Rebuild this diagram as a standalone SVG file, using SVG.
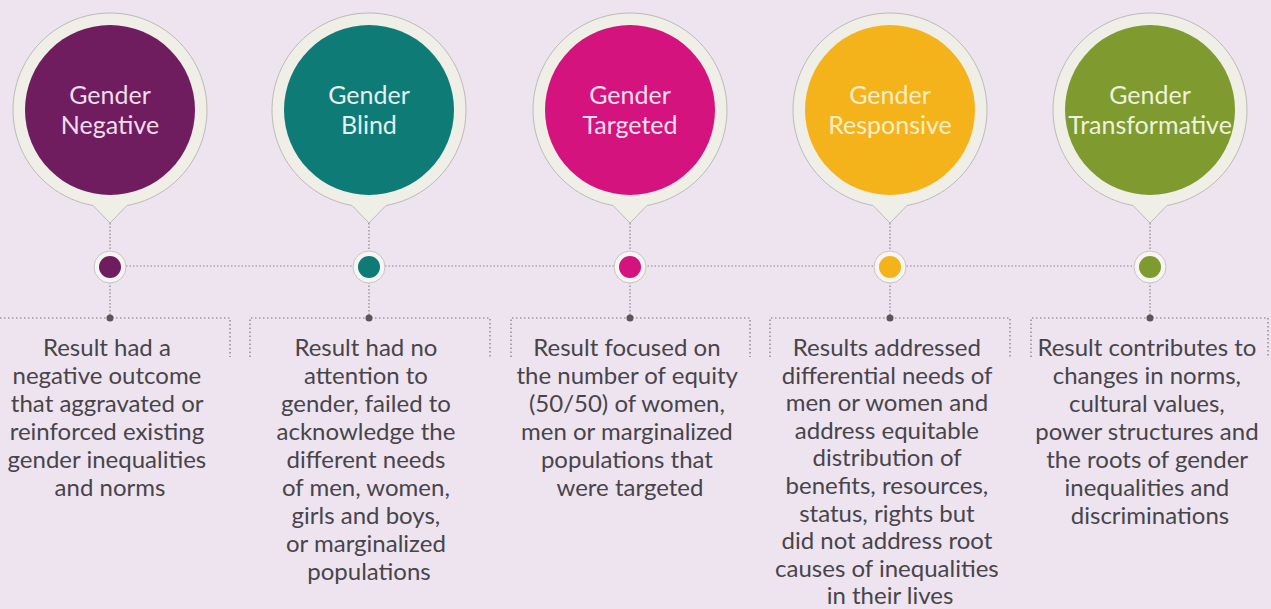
<svg xmlns="http://www.w3.org/2000/svg" width="1271" height="609" viewBox="0 0 1271 609">
  <defs>
    <style>
      .pin { fill: #efeee7; stroke: #bdbab5; stroke-width: 1; }
      .ring { fill: #f7f5f3; stroke: #c8c4c4; stroke-width: 1; }
      .title { font-family: Lato, "Open Sans", sans-serif; font-size: 25px; text-anchor: middle; }
      .body { font-family: Lato, "Open Sans", sans-serif; font-size: 24px; fill: #48444a; text-anchor: middle; }
      .dot { stroke: #8a8688; stroke-width: 1.2; stroke-dasharray: 1.5 2; fill: none; }
      .bracket { stroke: #7a7678; stroke-width: 1.2; stroke-dasharray: 1.5 2.5; fill: none; }
      .knot { fill: #5a5658; }
    </style>
    <path id="pinShape" d="M -17 205.5 A 97 97 0 1 1 17 205.5 L 0 223 Z"/>
  </defs>
  <rect x="0" y="0" width="1271" height="609" fill="#ede4ef"/>

  <g id="connectors">
    <line class="dot" x1="126" y1="266" x2="1134" y2="266"/>
    <line class="dot" x1="110" y1="223" x2="110" y2="251"/>
    <line class="dot" x1="110" y1="282" x2="110" y2="318"/>
    <line class="dot" x1="369" y1="223" x2="369" y2="251"/>
    <line class="dot" x1="369" y1="282" x2="369" y2="318"/>
    <line class="dot" x1="630" y1="223" x2="630" y2="251"/>
    <line class="dot" x1="630" y1="282" x2="630" y2="318"/>
    <line class="dot" x1="890" y1="223" x2="890" y2="251"/>
    <line class="dot" x1="890" y1="282" x2="890" y2="318"/>
    <line class="dot" x1="1150" y1="223" x2="1150" y2="251"/>
    <line class="dot" x1="1150" y1="282" x2="1150" y2="318"/>
    <path class="bracket" d="M 0 318 H 230 V 357"/>
    <path class="bracket" d="M 250 357 V 318 H 490 V 357"/>
    <path class="bracket" d="M 511 357 V 318 H 750 V 357"/>
    <path class="bracket" d="M 770 357 V 318 H 1010 V 357"/>
    <path class="bracket" d="M 1031 357 V 318 H 1268 V 357"/>
    <circle class="knot" cx="110" cy="318" r="3.5"/>
    <circle class="knot" cx="369" cy="318" r="3.5"/>
    <circle class="knot" cx="630" cy="318" r="3.5"/>
    <circle class="knot" cx="890" cy="318" r="3.5"/>
    <circle class="knot" cx="1150" cy="318" r="3.5"/>
  </g>

  <g id="node-negative">
    <use href="#pinShape" class="pin" transform="translate(110,0)"/>
    <circle cx="110" cy="110" r="85" fill="#701d5f"/>
    <text class="title" fill="#f1dcec" x="110" y="104">Gender</text>
    <text class="title" fill="#f1dcec" x="110" y="134">Negative</text>
    <circle class="ring" cx="110" cy="267" r="16"/>
    <circle cx="110" cy="267" r="11" fill="#701d5f"/>
    <text class="body">
      <tspan x="110" y="356">Result had a</tspan>
      <tspan x="110" y="384">negative outcome</tspan>
      <tspan x="110" y="412">that aggravated or</tspan>
      <tspan x="110" y="440">reinforced existing</tspan>
      <tspan x="110" y="468">gender inequalities</tspan>
      <tspan x="110" y="496">and norms</tspan>
    </text>
  </g>

  <g id="node-blind">
    <use href="#pinShape" class="pin" transform="translate(369,0)"/>
    <circle cx="369" cy="110" r="85" fill="#0e7b77"/>
    <text class="title" fill="#e3f1ef" x="369" y="104">Gender</text>
    <text class="title" fill="#e3f1ef" x="369" y="134">Blind</text>
    <circle class="ring" cx="369" cy="267" r="16"/>
    <circle cx="369" cy="267" r="11" fill="#0e7b77"/>
    <text class="body">
      <tspan x="369" y="356">Result had no</tspan>
      <tspan x="369" y="384">attention to</tspan>
      <tspan x="369" y="412">gender, failed to</tspan>
      <tspan x="369" y="440">acknowledge the</tspan>
      <tspan x="369" y="468">different needs</tspan>
      <tspan x="369" y="496">of men, women,</tspan>
      <tspan x="369" y="524">girls and boys,</tspan>
      <tspan x="369" y="552">or marginalized</tspan>
      <tspan x="369" y="580">populations</tspan>
    </text>
  </g>

  <g id="node-targeted">
    <use href="#pinShape" class="pin" transform="translate(630,0)"/>
    <circle cx="630" cy="110" r="85" fill="#d4137f"/>
    <text class="title" fill="#f8e0ee" x="630" y="104">Gender</text>
    <text class="title" fill="#f8e0ee" x="630" y="134">Targeted</text>
    <circle class="ring" cx="630" cy="267" r="16"/>
    <circle cx="630" cy="267" r="11" fill="#d4137f"/>
    <text class="body">
      <tspan x="630" y="356">Result focused on</tspan>
      <tspan x="630" y="384">the number of equity</tspan>
      <tspan x="630" y="412">(50/50) of women,</tspan>
      <tspan x="630" y="440">men or marginalized</tspan>
      <tspan x="630" y="468">populations that</tspan>
      <tspan x="630" y="496">were targeted</tspan>
    </text>
  </g>

  <g id="node-responsive">
    <use href="#pinShape" class="pin" transform="translate(890,0)"/>
    <circle cx="890" cy="110" r="85" fill="#f5b31b"/>
    <text class="title" fill="#fcefc8" x="890" y="104">Gender</text>
    <text class="title" fill="#fcefc8" x="890" y="134">Responsive</text>
    <circle class="ring" cx="890" cy="267" r="16"/>
    <circle cx="890" cy="267" r="11" fill="#f5b31b"/>
    <text class="body">
      <tspan x="890" y="356">Results addressed</tspan>
      <tspan x="890" y="383.6">differential needs of</tspan>
      <tspan x="890" y="411.2">men or women and</tspan>
      <tspan x="890" y="438.8">address equitable</tspan>
      <tspan x="890" y="466.4">distribution of</tspan>
      <tspan x="890" y="494">benefits, resources,</tspan>
      <tspan x="890" y="521.6">status, rights but</tspan>
      <tspan x="890" y="549.2">did not address root</tspan>
      <tspan x="890" y="576.8">causes of inequalities</tspan>
      <tspan x="890" y="604.4">in their lives</tspan>
    </text>
  </g>

  <g id="node-transformative">
    <use href="#pinShape" class="pin" transform="translate(1150,0)"/>
    <circle cx="1150" cy="110" r="85" fill="#7f9a2f"/>
    <text class="title" fill="#eef2dc" x="1150" y="104">Gender</text>
    <text class="title" fill="#eef2dc" x="1150" y="134">Transformative</text>
    <circle class="ring" cx="1150" cy="267" r="16"/>
    <circle cx="1150" cy="267" r="11" fill="#7f9a2f"/>
    <text class="body">
      <tspan x="1150" y="356">Result contributes to</tspan>
      <tspan x="1150" y="384">changes in norms,</tspan>
      <tspan x="1150" y="412">cultural values,</tspan>
      <tspan x="1150" y="440">power structures and</tspan>
      <tspan x="1150" y="468">the roots of gender</tspan>
      <tspan x="1150" y="496">inequalities and</tspan>
      <tspan x="1150" y="524">discriminations</tspan>
    </text>
  </g>
</svg>
